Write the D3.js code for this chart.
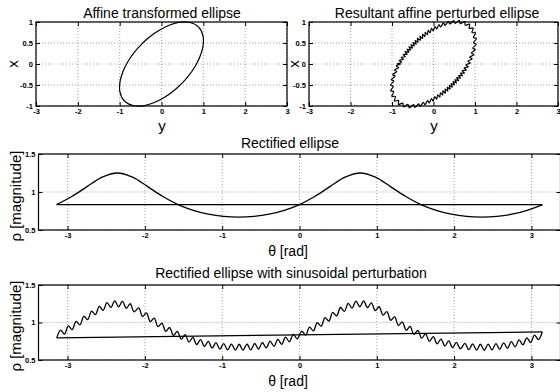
<!DOCTYPE html>
<html><head><meta charset="utf-8">
<script src="https://cdn.jsdelivr.net/npm/d3@7"></script>
<style>body{margin:0;background:#fff}svg{display:block}</style>
</head><body>
<script>
// ---------- data ----------
const thetaSmooth = [-3.1416,-2.9452,-2.7489,-2.5525,-2.3562,-2.1598,-1.9635,-1.7671,-1.5708,-1.3744,-1.1781,-0.9817,-0.7854,-0.5890,-0.3927,-0.1963,0,0.1963,0.3927,0.5890,0.7854,0.9817,1.1781,1.3744,1.5708,1.7671,1.9635,2.1598,2.3562,2.5525,2.7489,2.9452,3.1416];
const rhoSmooth = [0.835,0.941,1.071,1.195,1.25,1.195,1.071,0.941,0.835,0.759,0.708,0.679,0.670,0.679,0.708,0.759,0.835,0.941,1.071,1.195,1.25,1.195,1.071,0.941,0.835,0.759,0.708,0.679,0.670,0.679,0.708,0.759,0.835];

const thetaPert = [-3.14,-3.09,-3.04,-2.99,-2.94,-2.89,-2.84,-2.79,-2.74,-2.69,-2.64,-2.59,-2.54,-2.49,-2.44,-2.39,-2.34,-2.29,-2.24,-2.19,-2.14,
-2.08,-2.03,-1.98,-1.93,-1.88,-1.83,-1.78,-1.73,-1.68,-1.63,-1.58,-1.53,-1.48,-1.43,-1.38,-1.33,-1.28,-1.23,-1.18,-1.13,-1.08,-1.03,-0.98,-0.93,-0.88,-0.83,-0.78,-0.73,-0.68,-0.63,-0.58,-0.53,-0.48,-0.43,-0.38,-0.33,-0.28,-0.23,-0.18,-0.13,-0.08,-0.03,
0.03,0.08,0.13,0.18,0.23,0.28,0.33,0.38,0.43,0.48,0.53,0.58,0.63,0.68,0.73,0.78,0.83,0.88,0.93,0.98,1.03,1.08,1.13,1.18,1.23,1.28,1.33,1.38,1.43,1.48,1.53,1.58,1.63,1.68,1.73,1.78,1.83,1.88,1.93,1.98,2.03,2.08,
2.14,2.19,2.24,2.29,2.34,2.39,2.44,2.49,2.54,2.59,2.64,2.69,2.74,2.79,2.84,2.89,2.94,2.99,3.04,3.09,3.14];
const rhoPert = [0.795,0.899,0.846,0.954,0.904,1.016,0.969,1.083,1.038,1.152,1.105,1.215,1.163,1.265,1.200,1.289,1.209,1.283,1.190,1.250,1.143,
1.194,1.080,1.127,1.012,1.058,0.944,0.992,0.882,0.933,0.826,0.882,0.779,0.838,0.739,0.802,0.706,0.772,0.680,0.749,0.659,0.731,0.645,0.719,0.635,0.713,0.631,0.710,0.631,0.713,0.636,0.720,0.646,0.733,0.661,0.751,0.682,0.775,0.709,0.805,0.743,0.842,0.783,
0.886,0.832,0.939,0.888,0.999,0.951,1.064,1.019,1.134,1.087,1.200,1.149,1.254,1.193,1.284,1.210,1.288,1.198,1.261,1.158,1.210,1.099,1.144,1.030,1.076,0.962,1.009,0.897,0.948,0.841,0.894,0.791,0.849,0.749,0.811,0.714,0.779,0.686,0.754,0.664,0.735,0.649,
0.722,0.637,0.714,0.631,0.710,0.630,0.712,0.634,0.718,0.643,0.729,0.656,0.746,0.676,0.768,0.702,0.796,0.733,0.831,0.771,0.874];

const ellipseXTicks = [-3,-2,-1,0,1,2,3];
const ellipseXTickLabels = ["-3","-2","-1","0","1","2","3"];
const ellipseYTicks = [-1,-0.5,0,0.5,1];
const ellipseYTickLabels = ["-1","-0.5","0","0.5","1"];
const thetaTicks = [-3,-2,-1,0,1,2,3];
const thetaTickLabels = ["-3","-2","-1","0","1","2","3"];
const rhoTicks = [0.5,1,1.5];
const rhoTickLabels = ["0.5","1","1.5"];

const titles = ["Affine transformed ellipse","Resultant affine perturbed ellipse","Rectified ellipse","Rectified ellipse with sinusoidal perturbation"];
const xLabels = ["y","y","\u03b8 [rad]","\u03b8 [rad]"];
const yLabels = ["x","x","\u03c1 [magnitude]","\u03c1 [magnitude]"];

// ---------- drawing ----------
const W = 560, H = 392;
const svg = d3.select("body").append("svg").attr("width", W).attr("height", H);
const FONT = "'Liberation Sans', Arial, Helvetica, sans-serif";

function panel(o) {
  const sx = d3.scaleLinear().domain(o.xd).range([o.l, o.r]);
  const sy = d3.scaleLinear().domain(o.yd).range([o.b, o.t]);
  const g = svg.append("g");
  // grid
  g.append("g").selectAll("line").data(o.xt).join("line")
    .attr("x1", d => sx(d)).attr("x2", d => sx(d)).attr("y1", o.t).attr("y2", o.b)
    .attr("stroke", "#8a8a8a").attr("stroke-width", 0.8).attr("stroke-dasharray", "1,2");
  g.append("g").selectAll("line").data(o.yt).join("line")
    .attr("y1", d => sy(d)).attr("y2", d => sy(d)).attr("x1", o.l).attr("x2", o.r)
    .attr("stroke", "#8a8a8a").attr("stroke-width", 0.8).attr("stroke-dasharray", "1,2");
  // axes
  const style = a => {
    a.select(".domain").remove();
    a.selectAll(".tick line").attr("stroke", "#000").attr("stroke-width", 1);
    a.selectAll(".tick text").attr("font-family", FONT).attr("font-size", 7.5)
      .attr("font-weight", "bold").attr("fill", "#000");
  };
  g.append("g").attr("transform", `translate(0,${o.b})`)
    .call(d3.axisBottom(sx).tickValues(o.xt).tickSize(-4).tickPadding(3)
      .tickFormat((d, i) => o.xl[i])).call(style);
  g.append("g").attr("transform", `translate(0,${o.t})`)
    .call(d3.axisTop(sx).tickValues(o.xt).tickSize(-4).tickFormat("")).call(style);
  g.append("g").attr("transform", `translate(${o.l},0)`)
    .call(d3.axisLeft(sy).tickValues(o.yt).tickSize(-4).tickPadding(3)
      .tickFormat((d, i) => o.yl[i])).call(style);
  g.append("g").attr("transform", `translate(${o.r},0)`)
    .call(d3.axisRight(sy).tickValues(o.yt).tickSize(-4).tickFormat("")).call(style);
  // box
  g.append("rect").attr("x", o.l).attr("y", o.t).attr("width", o.r - o.l).attr("height", o.b - o.t)
    .attr("fill", "none").attr("stroke", "#000").attr("stroke-width", 1.2);
  // texts
  g.append("text").attr("x", o.tx).attr("y", o.ty).attr("text-anchor", "middle")
    .attr("font-family", FONT).attr("font-size", 14).text(o.title);
  g.append("text").attr("x", o.xlx).attr("y", o.xly).attr("text-anchor", "middle")
    .attr("font-family", FONT).attr("font-size", o.lfs).text(o.xlab);
  g.append("text").attr("transform", `translate(${o.ylx},${o.yly}) rotate(-90)`).attr("text-anchor", "middle")
    .attr("font-family", FONT).attr("font-size", o.yfs).text(o.ylab);
  return {g, sx, sy};
}

function ellipsePanel(o, th, rh, closedDrop) {
  const p = panel(o);
  let pts = th.map((t, i) => [rh[i] * Math.cos(t), rh[i] * Math.sin(t)]);
  if (closedDrop) pts = pts.slice(0, -1);
  p.g.append("path").datum(pts)
    .attr("d", d3.line().x(d => p.sx(d[0])).y(d => p.sy(d[1])).curve(d3.curveCatmullRomClosed))
    .attr("fill", "none").attr("stroke", "#000").attr("stroke-width", 1.2);
}

function rectPanel(o, th, rh) {
  const p = panel(o);
  const pts = th.map((t, i) => [t, rh[i]]);
  p.g.append("path").datum(pts)
    .attr("d", d3.line().x(d => p.sx(d[0])).y(d => p.sy(d[1])).curve(d3.curveCatmullRom))
    .attr("fill", "none").attr("stroke", "#000").attr("stroke-width", 1.3);
  const close = [pts[pts.length - 1], pts[0]];
  p.g.append("path").datum(close)
    .attr("d", d3.line().x(d => p.sx(d[0])).y(d => p.sy(d[1])))
    .attr("fill", "none").attr("stroke", "#000").attr("stroke-width", 1.3);
}

ellipsePanel({l:36, r:287, t:22, b:106, xd:[-3,3], yd:[-1,1],
  xt:ellipseXTicks, xl:ellipseXTickLabels, yt:ellipseYTicks, yl:ellipseYTickLabels,
  title:titles[0], tx:162, ty:18, xlab:xLabels[0], xlx:162, xly:131, ylab:yLabels[0], ylx:18, yly:64, lfs:15, yfs:15},
  thetaSmooth, rhoSmooth, true);

ellipsePanel({l:309, r:558, t:22, b:106, xd:[-3,3], yd:[-1,1],
  xt:ellipseXTicks, xl:ellipseXTickLabels, yt:ellipseYTicks, yl:ellipseYTickLabels,
  title:titles[1], tx:437, ty:18, xlab:xLabels[1], xlx:434, xly:131, ylab:yLabels[1], ylx:299, yly:64, lfs:15, yfs:15},
  thetaPert, rhoPert, false);

rectPanel({l:38.5, r:560.5, t:154, b:230, xd:[-3.376,3.376], yd:[0.5,1.5],
  xt:thetaTicks, xl:thetaTickLabels, yt:rhoTicks, yl:rhoTickLabels,
  title:titles[2], tx:290, ty:148, xlab:xLabels[2], xlx:288, xly:256, ylab:yLabels[2], ylx:21, yly:196, lfs:14, yfs:15},
  thetaSmooth, rhoSmooth);

rectPanel({l:38.5, r:560.5, t:285, b:360, xd:[-3.376,3.376], yd:[0.5,1.5],
  xt:thetaTicks, xl:thetaTickLabels, yt:rhoTicks, yl:rhoTickLabels,
  title:titles[3], tx:291, ty:278, xlab:xLabels[3], xlx:288, xly:386, ylab:yLabels[3], ylx:21, yly:326, lfs:14, yfs:15},
  thetaPert, rhoPert);
</script>
</body></html>
